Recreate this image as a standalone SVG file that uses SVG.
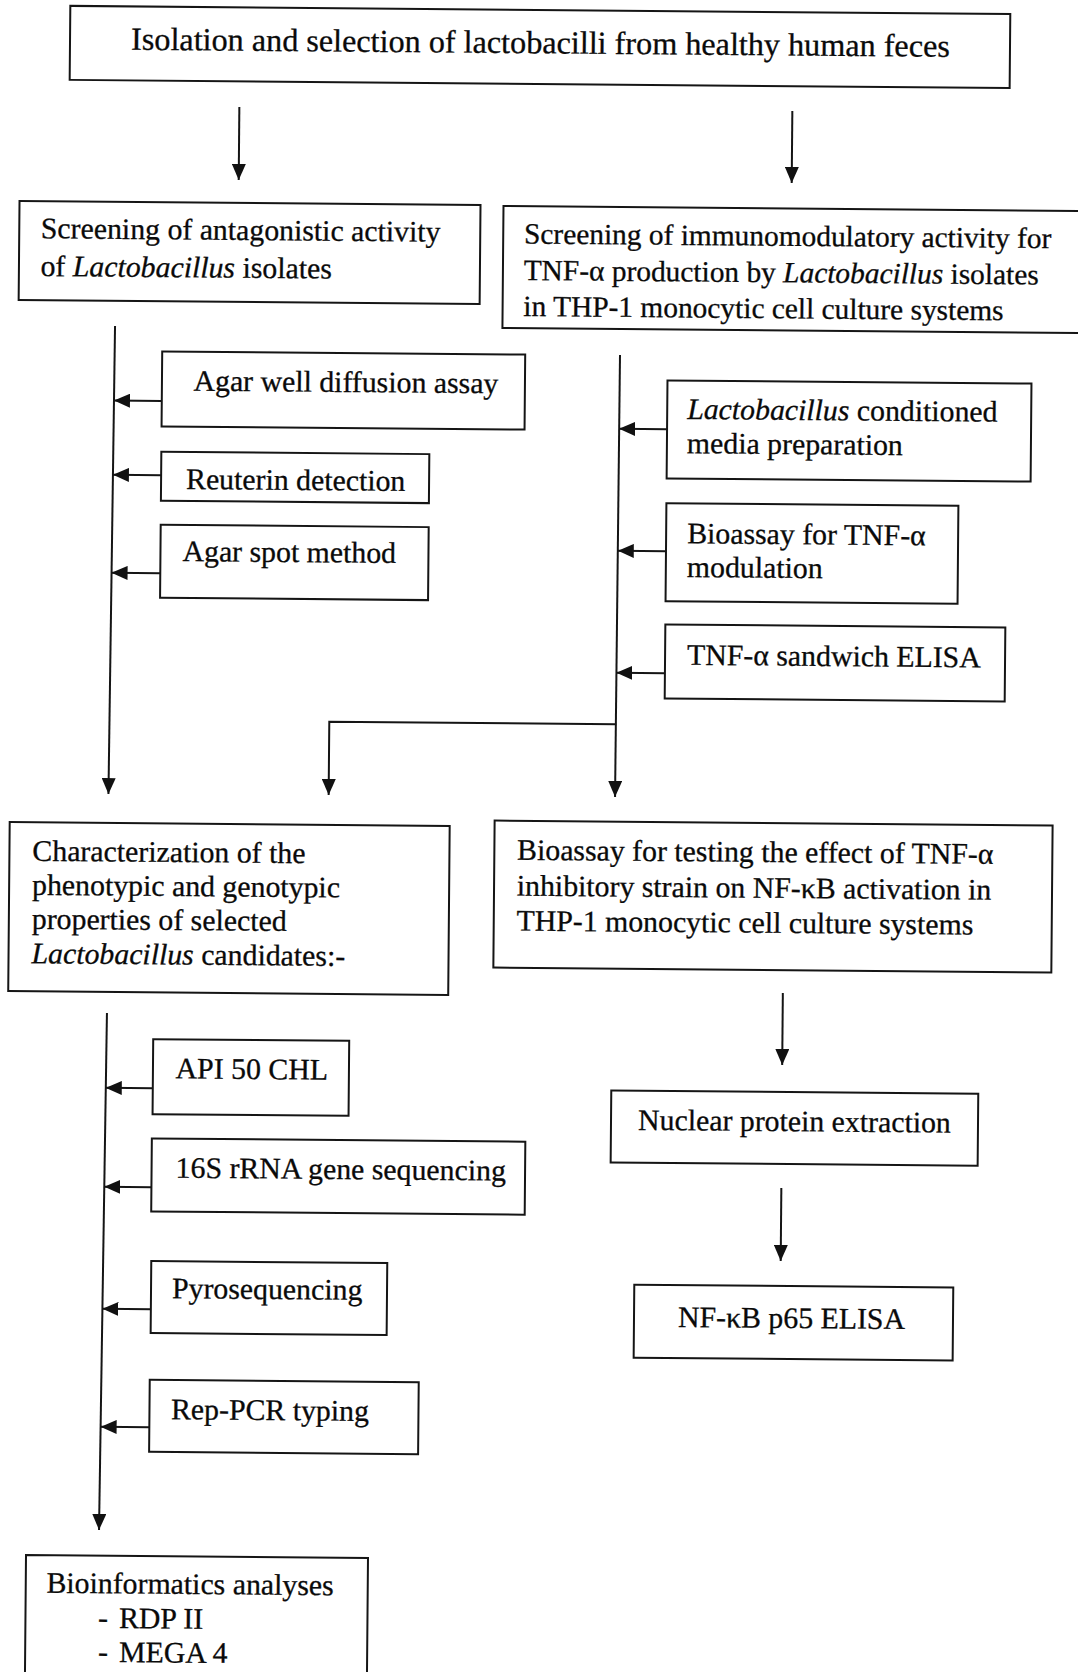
<svg xmlns="http://www.w3.org/2000/svg" width="1078" height="1672" viewBox="0 0 1078 1672">
<defs>
<marker id="ah" markerUnits="userSpaceOnUse" markerWidth="16" markerHeight="14" refX="16" refY="7" orient="auto">
<path d="M0,0 L16,7 L0,14 Z" fill="#111"/>
</marker>
<style>
.box{fill:none;stroke:#151515;stroke-width:2}
.ar{fill:none;stroke:#151515;stroke-width:2;marker-end:url(#ah)}
text{font-family:"Liberation Serif","Times New Roman",serif;font-size:29.8px;fill:#0a0a0a;stroke:#0a0a0a;stroke-width:0.3}
.big{font-size:32.2px}
.rs{font-size:29.4px}
.it{font-style:italic}
</style>
</defs>
<rect width="1078" height="1672" fill="#fff"/>
<g id="diagram" transform="rotate(0.5 539 836)">
<g id="connectors">
<line class="ar" x1="233" y1="109.6" x2="233" y2="182.6"/>
<line class="ar" x1="786" y1="108.8" x2="786" y2="180.8"/>
<line class="ar" x1="110.6" y1="329.7" x2="108.1" y2="797.8"/>
<line class="ar" x1="158" y1="404.3" x2="110.2" y2="404.3"/>
<line class="ar" x1="158" y1="478.5" x2="109.8" y2="478.5"/>
<line class="ar" x1="158" y1="576.5" x2="109.3" y2="576.5"/>
<line class="ar" x1="615.8" y1="354.3" x2="614.7" y2="796.3"/>
<path class="ar" d="M614.9,723.5 H328.3 V796.8"/>
<line class="ar" x1="663.5" y1="428.1" x2="615.5" y2="428.1"/>
<line class="ar" x1="663.5" y1="550.1" x2="615.3" y2="550.1"/>
<line class="ar" x1="663.5" y1="672.1" x2="615" y2="672.1"/>
<line class="ar" x1="784.2" y1="990.9" x2="784.2" y2="1062.9"/>
<line class="ar" x1="784.4" y1="1185.9" x2="784.4" y2="1258.9"/>
<line class="ar" x1="108.5" y1="1016.8" x2="105.1" y2="1533.8"/>
<line class="ar" x1="155" y1="1091.6" x2="108" y2="1091.6"/>
<line class="ar" x1="154.5" y1="1190.6" x2="107.4" y2="1190.6"/>
<line class="ar" x1="155" y1="1312.6" x2="106.6" y2="1312.6"/>
<line class="ar" x1="154.5" y1="1430.6" x2="105.8" y2="1430.6"/>
</g>
<g id="n-isolation">
<rect class="box" x="63.1" y="10" width="940" height="74"/>
<text class="big" x="533.6" y="53.3" text-anchor="middle">Isolation and selection of lactobacilli from healthy human feces</text>
</g>
<g id="n-antagonistic">
<rect class="box" x="14" y="205.5" width="461" height="99"/>
<text x="35.6" y="242.6">Screening of antagonistic activity</text>
<text x="35.6" y="280.4">of <tspan class="it">Lactobacillus</tspan> isolates</text>
</g>
<g id="n-immuno">
<rect class="box" x="498" y="206.3" width="600" height="122"/>
<text class="rs" x="518.8" y="243.7">Screening of immunomodulatory activity for</text>
<text class="rs" x="518.8" y="280.2">TNF-α production by <tspan class="it">Lactobacillus</tspan> isolates</text>
<text class="rs" x="518.8" y="316.2">in THP-1 monocytic cell culture systems</text>
</g>
<g id="n-agarwell">
<rect class="box" x="158" y="354.7" width="363" height="75"/>
<text x="189.6" y="393.7">Agar well diffusion assay</text>
</g>
<g id="n-reuterin">
<rect class="box" x="158" y="455.1" width="268" height="49"/>
<text x="183" y="492.1">Reuterin detection</text>
</g>
<g id="n-agarspot">
<rect class="box" x="158" y="528.1" width="268" height="73"/>
<text x="180.1" y="564.2">Agar spot method</text>
</g>
<g id="n-conditioned">
<rect class="box" x="663.5" y="379.3" width="364" height="98"/>
<text x="683.5" y="417.7"><tspan class="it">Lactobacillus</tspan> conditioned</text>
<text x="683.5" y="451.9">media preparation</text>
</g>
<g id="n-bioassay-tnf">
<rect class="box" x="663.5" y="502.1" width="292" height="98"/>
<text x="684.6" y="542">Bioassay for TNF-α</text>
<text x="684.6" y="575.7">modulation</text>
</g>
<g id="n-tnf-elisa">
<rect class="box" x="663.5" y="623.4" width="340" height="74"/>
<text x="685.5" y="663.5">TNF-α sandwich ELISA</text>
</g>
<g id="n-characterization">
<rect class="box" x="9.6" y="826.7" width="440" height="169"/>
<text x="32.6" y="865.2">Characterization of the</text>
<text x="32.6" y="899.2">phenotypic and genotypic</text>
<text x="32.6" y="933.2">properties of selected</text>
<text x="32.6" y="967.7"><tspan class="it">Lactobacillus</tspan> candidates:-</text>
</g>
<g id="n-nfkb-bioassay">
<rect class="box" x="494.5" y="821" width="558" height="147"/>
<text x="517.3" y="860">Bioassay for testing the effect of TNF-α</text>
<text x="517.3" y="895.8">inhibitory strain on NF-κB activation in</text>
<text x="517.3" y="930.8">THP-1 monocytic cell culture systems</text>
</g>
<g id="n-nuclear">
<rect class="box" x="613.5" y="1089.8" width="367" height="72"/>
<text x="640.6" y="1129">Nuclear protein extraction</text>
</g>
<g id="n-nfkb-elisa">
<rect class="box" x="638.2" y="1283.8" width="319" height="73"/>
<text x="682.3" y="1325.8">NF-κB p65 ELISA</text>
</g>
<g id="n-api">
<rect class="box" x="155" y="1042.5" width="196" height="75"/>
<text x="177.7" y="1081.5">API 50 CHL</text>
</g>
<g id="n-16s">
<rect class="box" x="154.5" y="1141.8" width="373.5" height="73"/>
<text x="178.6" y="1180.8">16S rRNA gene sequencing</text>
</g>
<g id="n-pyro">
<rect class="box" x="155" y="1264.4" width="236" height="72"/>
<text x="176" y="1301.4">Pyrosequencing</text>
</g>
<g id="n-rep">
<rect class="box" x="154.5" y="1383.2" width="269" height="72"/>
<text x="176.1" y="1422.4">Rep-PCR typing</text>
</g>
<g id="n-bioinformatics">
<path class="box" d="M32.3,1700 V1559.5 H374.3 V1700"/>
<text x="53.1" y="1597">Bioinformatics analyses</text>
<text y="1631.7"><tspan x="104.9">-</tspan><tspan x="125.9">RDP II</tspan></text>
<text y="1665.7"><tspan x="105.2">-</tspan><tspan x="126.2">MEGA 4</tspan></text>
</g>
</g>
</svg>
